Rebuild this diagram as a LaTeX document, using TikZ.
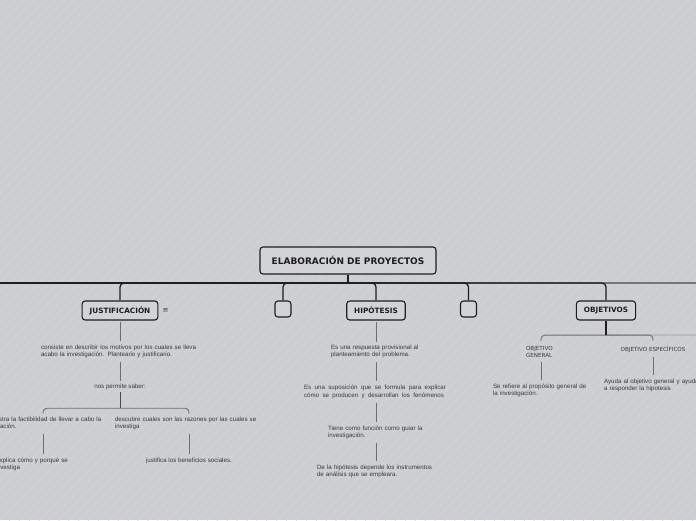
\documentclass[tikz,border=0pt]{standalone}
\usepackage{fontspec}
\setmainfont{Liberation Sans}
\newfontfamily\boxfont{DejaVu Sans}
\usetikzlibrary{positioning,patterns.meta}
\definecolor{paper}{HTML}{CDCED1}
\definecolor{hatch}{HTML}{D6D7D9}
\definecolor{boxfill}{HTML}{D2D3D5}
\definecolor{ink}{HTML}{1E1E1E}
\definecolor{note}{HTML}{383838}
\definecolor{twig}{HTML}{6E6E6E}
\tikzset{
bus/.style={line width=1.3pt, draw=ink, rounded corners=4pt},
busfaint/.style={line width=1.3pt, draw=ink!50!paper},
link/.style={line width=0.9pt, draw=twig, rounded corners=4pt},
stem/.style={link, shorten <=4pt, shorten >=3.5pt},
}

\begin{document}
\begin{tikzpicture}
    [x=1pt, y=-1pt,
    topic/.style={draw=ink, fill=boxfill, rounded corners=3pt, line width=1.1pt,
        text=ink, font=\boxfont\bfseries\fontsize{7.3}{8}\selectfont,
        minimum height=19pt, inner xsep=7.5pt},
    blank/.style={topic, minimum width=16pt, minimum height=16pt, inner sep=0pt},
    memo/.style={text=note, font=\fontsize{6.2}{7}\selectfont, inner sep=0pt, align=left},
    caps/.style={memo, font=\boxfont\fontsize{5.6}{7}\selectfont}
    ]

    % background
    \fill[paper] (0,0) rectangle (696,520);
    \fill[pattern={Lines[angle=45,distance=7pt,line width=0.5pt]}, pattern color=hatch]
        (0,0) rectangle (696,520);
    \useasboundingbox (0,0) rectangle (696,520);

    \node [topic, font=\boxfont\bfseries\fontsize{9}{10}\selectfont,
        minimum width=176pt, minimum height=27pt] (root) at (348,260.5)
        {ELABORACIÓN DE PROYECTOS};

    \node [topic] (just) at (120,310.5) {JUSTIFICACIÓN};
    \node [blank] (gap1) at (283,309) {};
    \node [topic] (hip) at (376,310.5) {HIPÓTESIS};
    \node [blank] (gap2) at (468.5,309) {};
    \node [topic] (obj) at (606,310.5) {OBJETIVOS};
    \node [text=note, inner sep=0pt, font=\boxfont\fontsize{7}{8}\selectfont,
        right=4pt of just] (menu) {≡};

    % justificacion
    \node [memo, text width=158pt, below=24pt of just] (just1)
    {
        consiste en describir los motivos por los cuales se lleva
        \\
        acabo la investigación. Planteario y justificario.
    };
    \node [memo, below=26.3pt of just1] (saber) {nos permite saber:};
    \node [memo, text width=128pt, anchor=north] (dem) at (43,417.2)
    {
        Demuestra la factibilidad de llevar a cabo la
        \\
        investigación.
    };
    \node [memo, text width=148pt, anchor=north] (desc) at (189,417.2)
    {
        descubre cuales son las razones por las cuales se
        \\
        investiga
    };
    \node [memo, text width=95pt, below=27.3pt of dem] (expl)
    {
        Explica cómo y porqué se
        \\
        investiga
    };
    \node [memo, below=27.3pt of desc] (justi) {justifica los beneficios sociales.};

    % hipotesis
    \node [memo, text width=90pt, below=24.7pt of hip] (hip1)
    {
        Es una respuesta provisional al
        \\
        planteamiento del problema.
    };
    \node [memo, text width=144pt, below=26pt of hip1] (hip2)
    {
        \hbox to 142pt{Es\hfill una\hfill suposición\hfill que\hfill se\hfill formula\hfill para\hfill explicar}
        \\[1pt]
        \hbox to 140pt{cómo\hfill se\hfill producen\hfill y\hfill desarrollan\hfill los\hfill fenómenos}
    };
    \node [memo, text width=96pt, below=27pt of hip2] (hip3)
    {
        Tiene como función como guiar la
        \\
        investigación.
    };
    \node [memo, text width=118pt, below=25.7pt of hip3] (hip4)
    {
        De la hipótesis depende los instrumentos
        \\
        de análisis que se empleara.
    };

    % objetivos
    \node [caps, text width=30pt, anchor=north] (ogen) at (541,346)
    {
        OBJETIVO
        \\
        GENERAL
    };
    \node [caps, anchor=north] (oesp) at (653,346) {OBJETIVO ESPECÍFICOS};
    \node [memo, text width=96pt, below=26pt of ogen] (ogen1)
    {
        Se refiere al propósito general de
        \\
        la investigación.
    };
    \node [memo, text width=98pt, below=26pt of oesp] (oesp1)
    {
        Ayuda al objetivo general y ayuda
        \\
        a responder la hipotesis
    };

    % main bus
    \coordinate (bus) at (348,283);
    \coordinate (busL) at (-6,283);
    \coordinate (busR) at (702,283);
    \draw[busfaint] (bus) -- (busR);
    \draw[bus] (root) -- (bus);
    \draw[bus] (bus) -- (busL);
    \foreach \t in {just,gap1,hip,gap2,obj}
        \draw[bus] (bus) -| (\t);

    % justificacion lines
    \draw[stem, shorten <=1.5pt] (just.south) -- (just.south |- just1.north);
    \draw[stem] (just1.south) -- (just1.south |- saber.north);
    \path (saber.south) ++(0,18) coordinate (fork);
    \draw[link, draw=ink!75!paper, shorten <=2pt] (saber.south) -- (fork);
    \draw[link, shorten >=3.5pt] (fork) -| (dem);
    \draw[link, shorten >=3.5pt] (fork) -| (desc);
    \draw[stem] (dem.south) -- (dem.south |- expl.north);
    \draw[stem] (desc.south) -- (desc.south |- justi.north);

    % hipotesis lines
    \draw[stem, shorten <=1.5pt] (hip.south) -- (hip.south |- hip1.north);
    \draw[stem] (hip1.south) -- (hip1.south |- hip2.north);
    \draw[stem] (hip2.south) -- (hip2.south |- hip3.north);
    \draw[stem] (hip3.south) -- (hip3.south |- hip4.north);

    % objetivos lines
    \path (obj.south) ++(0,14.5) coordinate (split);
    \coordinate (splitR) at (702,335);
    \draw[link, draw=twig!55!paper] (split) -- (splitR);
    \draw[link, shorten >=5pt] (split) -| (ogen);
    \draw[link, shorten >=5pt] (split) -| (oesp);
    \draw[bus] (obj) -- (split);
    \draw[stem] (ogen.south) -- (ogen.south |- ogen1.north);
    \draw[stem] (oesp.south) -- (oesp.south |- oesp1.north);

\end{tikzpicture}
\end{document}
